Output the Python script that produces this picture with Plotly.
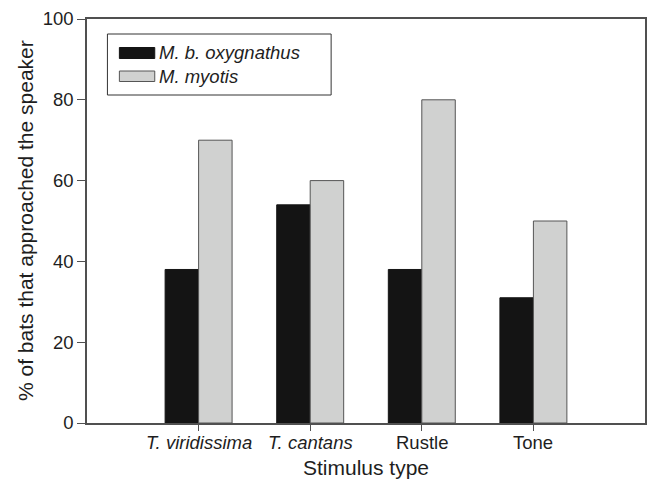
import plotly.graph_objects as go

categories = ["<i>T. viridissima</i>", "<i>T. cantans</i>", "Rustle", "Tone"]
positions = [1, 2, 3, 4]
oxygnathus = [38, 54, 38, 31]
myotis = [70, 60, 80, 50]
series_names = ["<i>M. b. oxygnathus</i>", "<i>M. myotis</i>"]
y_ticks = [0, 20, 40, 60, 80, 100]

FONT = "Liberation Sans, Arial, sans-serif"
AX = "#505050"
TXT = "#1e1e1e"

fig = go.Figure()
fig.add_trace(go.Bar(x=positions, y=oxygnathus, name=series_names[0],
                     marker=dict(color="#141414", line=dict(color="#141414", width=1))))
fig.add_trace(go.Bar(x=positions, y=myotis, name=series_names[1],
                     marker=dict(color="#d0d1d0", line=dict(color="#555555", width=1))))

fig.update_layout(
    width=649, height=484,
    margin=dict(l=87, r=2, t=19, b=61),
    paper_bgcolor="white", plot_bgcolor="white",
    barmode="group", bargap=0.4, bargroupgap=0,
    showlegend=False,
    font=dict(family=FONT, size=18.5, color=TXT),
)
fig.update_xaxes(range=[0, 5], tickmode="array", tickvals=positions,
                 showticklabels=False,
                 ticks="outside", ticklen=6, tickcolor=AX, showline=True, linecolor=AX,
                 linewidth=1.5, mirror=True, showgrid=False, zeroline=False)
fig.update_yaxes(range=[0, 100], tickmode="array", tickvals=y_ticks,
                 ticks="outside", ticklen=8, tickcolor=AX, showline=True, linecolor=AX,
                 linewidth=1.5, mirror=True, showgrid=False, zeroline=False,
                 tickfont=dict(size=18.5, color=TXT))

# x tick labels (placed at the category positions on the data axis)
for pos, lab in zip(positions, categories):
    fig.add_annotation(text=lab, xref="x", yref="paper", x=pos, y=0, yshift=-19,
                       xanchor="center", yanchor="middle", showarrow=False,
                       font=dict(size=18.5, color=TXT))

# axis titles
fig.add_annotation(text="Stimulus type", xref="paper", yref="paper", x=0.5, y=0,
                   yshift=-44, yanchor="middle", showarrow=False,
                   font=dict(size=21, color=TXT))
fig.add_annotation(text="% of bats that approached the speaker", xref="paper", yref="paper",
                   x=0, y=0.5, xshift=-62, textangle=-90, xanchor="center", showarrow=False,
                   font=dict(size=21, color=TXT))

# legend (drawn manually to match swatch shape)
def px_x(p):
    return (p - 87) / (647 - 87)

def px_y(p):
    return (423 - p) / (423 - 19)

fig.add_shape(type="rect", xref="paper", yref="paper",
              x0=px_x(107.5), x1=px_x(332), y0=px_y(95), y1=px_y(34),
              line=dict(color="#333333", width=1), fillcolor="white")
fig.add_shape(type="rect", xref="paper", yref="paper",
              x0=px_x(119.5), x1=px_x(155), y0=px_y(58.5), y1=px_y(47.5),
              line=dict(color="#141414", width=1), fillcolor="#141414")
fig.add_shape(type="rect", xref="paper", yref="paper",
              x0=px_x(119.5), x1=px_x(155), y0=px_y(81.5), y1=px_y(71),
              line=dict(color="#555555", width=1), fillcolor="#d0d1d0")
for name, yc in zip(series_names, [53, 76]):
    fig.add_annotation(text=name, xref="paper", yref="paper", x=px_x(157), y=px_y(yc),
                       xanchor="left", yanchor="middle", showarrow=False,
                       font=dict(size=18.5, color=TXT))

fig.write_html("out.html")
